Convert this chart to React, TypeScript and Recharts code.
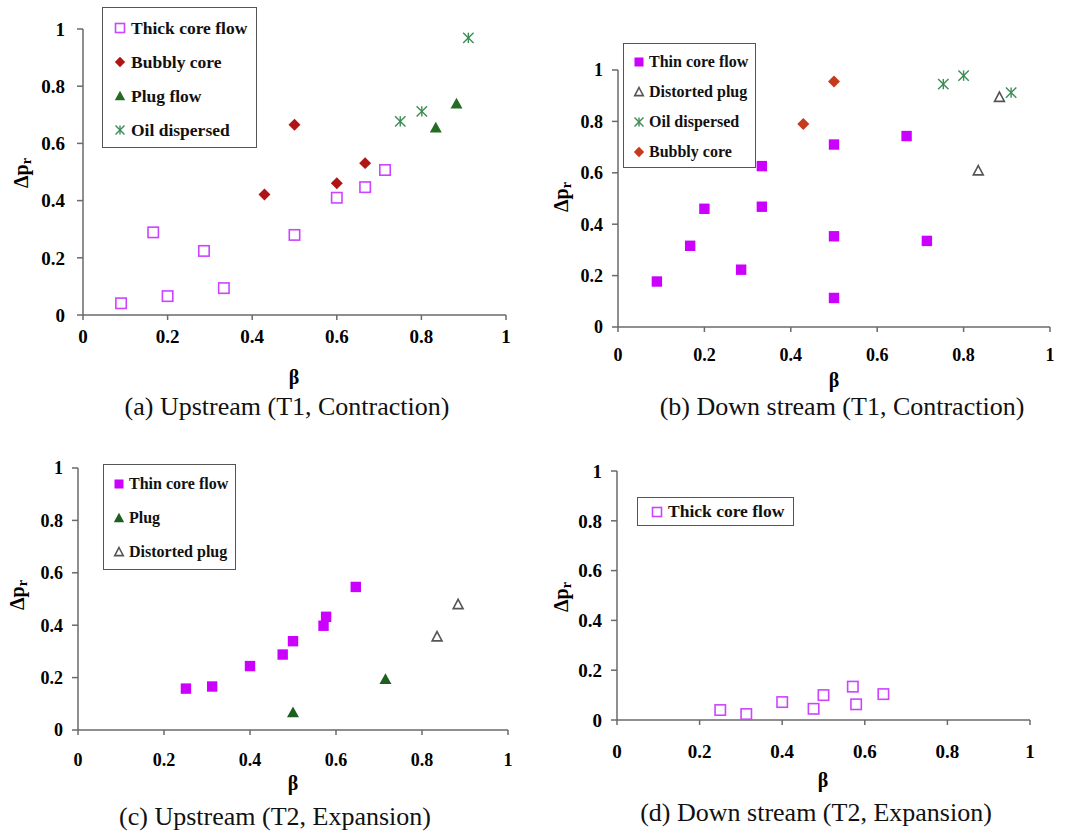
import { Legend, Scatter, ScatterChart, XAxis, YAxis } from "recharts";

const serif = '"Liberation Serif", "Times New Roman", serif';

const xTicks = [0, 0.2, 0.4, 0.6, 0.8, 1];
const yTicks = [0, 0.2, 0.4, 0.6, 0.8, 1];

// (a) upstream, T1 contraction
const aThickCore = [
  { beta: 0.09, dp: 0.041 },
  { beta: 0.166, dp: 0.289 },
  { beta: 0.2, dp: 0.066 },
  { beta: 0.286, dp: 0.224 },
  { beta: 0.333, dp: 0.094 },
  { beta: 0.5, dp: 0.28 },
  { beta: 0.6, dp: 0.41 },
  { beta: 0.667, dp: 0.447 },
  { beta: 0.714, dp: 0.507 },
];
const aBubbly = [
  { beta: 0.429, dp: 0.421 },
  { beta: 0.5, dp: 0.665 },
  { beta: 0.6, dp: 0.461 },
  { beta: 0.667, dp: 0.531 },
];
const aPlug = [
  { beta: 0.834, dp: 0.655 },
  { beta: 0.883, dp: 0.739 },
];
const aOil = [
  { beta: 0.75, dp: 0.677 },
  { beta: 0.801, dp: 0.712 },
  { beta: 0.911, dp: 0.969 },
];

// (b) downstream, T1 contraction
const bThinCore = [
  { beta: 0.09, dp: 0.177 },
  { beta: 0.167, dp: 0.316 },
  { beta: 0.2, dp: 0.46 },
  { beta: 0.285, dp: 0.223 },
  { beta: 0.333, dp: 0.626 },
  { beta: 0.333, dp: 0.468 },
  { beta: 0.5, dp: 0.71 },
  { beta: 0.5, dp: 0.353 },
  { beta: 0.5, dp: 0.113 },
  { beta: 0.668, dp: 0.743 },
  { beta: 0.715, dp: 0.335 },
];
const bDistorted = [
  { beta: 0.834, dp: 0.608 },
  { beta: 0.883, dp: 0.894 },
];
const bOil = [
  { beta: 0.753, dp: 0.945 },
  { beta: 0.8, dp: 0.978 },
  { beta: 0.91, dp: 0.912 },
];
const bBubbly = [
  { beta: 0.429, dp: 0.79 },
  { beta: 0.5, dp: 0.955 },
];

// (c) upstream, T2 expansion
const cThinCore = [
  { beta: 0.251, dp: 0.158 },
  { beta: 0.312, dp: 0.166 },
  { beta: 0.4, dp: 0.244 },
  { beta: 0.476, dp: 0.288 },
  { beta: 0.5, dp: 0.339 },
  { beta: 0.571, dp: 0.398 },
  { beta: 0.577, dp: 0.432 },
  { beta: 0.646, dp: 0.546 },
];
const cPlug = [
  { beta: 0.5, dp: 0.067 },
  { beta: 0.715, dp: 0.194 },
];
const cDistorted = [
  { beta: 0.835, dp: 0.356 },
  { beta: 0.884, dp: 0.479 },
];

// (d) downstream, T2 expansion
const dThickCore = [
  { beta: 0.25, dp: 0.04 },
  { beta: 0.313, dp: 0.024 },
  { beta: 0.4, dp: 0.072 },
  { beta: 0.476, dp: 0.045 },
  { beta: 0.5, dp: 0.1 },
  { beta: 0.571, dp: 0.134 },
  { beta: 0.579, dp: 0.063 },
  { beta: 0.645, dp: 0.104 },
];

type Kind = "openSquare" | "square" | "diamond" | "triangle" | "openTriangle" | "asterisk";

const Marker = ({ kind, cx, cy, color, s }: { kind: Kind; cx: number; cy: number; color: string; s: number }) => {
  if (kind === "openSquare")
    return <rect x={cx - s} y={cy - s} width={2 * s} height={2 * s} fill="none" stroke={color} strokeWidth={1.6} />;
  if (kind === "square") return <rect x={cx - s} y={cy - s} width={2 * s} height={2 * s} fill={color} />;
  if (kind === "diamond") {
    const d = s * 1.15;
    return <polygon points={`${cx},${cy - d} ${cx + d},${cy} ${cx},${cy + d} ${cx - d},${cy}`} fill={color} />;
  }
  if (kind === "triangle") {
    const w = s * 1.15;
    return <polygon points={`${cx},${cy - w} ${cx + w},${cy + w * 0.8} ${cx - w},${cy + w * 0.8}`} fill={color} />;
  }
  if (kind === "openTriangle")
    return (
      <polygon
        points={`${cx},${cy - s} ${cx + s * 0.95},${cy + s * 0.8} ${cx - s * 0.95},${cy + s * 0.8}`}
        fill="#fff"
        stroke={color}
        strokeWidth={1.6}
      />
    );
  return (
    <g stroke={color} strokeWidth={1.4}>
      <line x1={cx - s} y1={cy - s} x2={cx + s} y2={cy + s} />
      <line x1={cx - s} y1={cy + s} x2={cx + s} y2={cy - s} />
      <line x1={cx} y1={cy - s} x2={cx} y2={cy + s} />
    </g>
  );
};

type Series = { name: string; data: { beta: number; dp: number }[]; kind: Kind; color: string };

type Panel = {
  left: number;
  top: number;
  width: number;
  height: number;
  margin: { top: number; right: number };
  yWidth: number;
  xHeight: number;
  tickFont: number;
  xTickMargin: number;
  yTickMargin: number;
  series: Series[];
  legend: { x: number; y: number; font: number; rowH: number; padTop: number; markerX: number; textX: number; padRight: number };
  beta: [number, number];
  dpr: [number, number];
  caption: { text: string; x: number; y: number };
};

const MAGENTA_OPEN = "#CC44FF";
const MAGENTA = "#CC00FF";
const GREEN = "#246B24";
const OIL = "#3D8C55";
const GRAY = "#555";

const panels: Panel[] = [
  {
    left: 0, top: 0, width: 530, height: 400,
    margin: { top: 29, right: 24 }, yWidth: 83, xHeight: 85,
    tickFont: 19, xTickMargin: 10, yTickMargin: 12,
    series: [
      { name: "Thick core flow", data: aThickCore, kind: "openSquare", color: MAGENTA_OPEN },
      { name: "Bubbly core", data: aBubbly, kind: "diamond", color: "#B01515" },
      { name: "Plug flow", data: aPlug, kind: "triangle", color: GREEN },
      { name: "Oil dispersed", data: aOil, kind: "asterisk", color: OIL },
    ],
    legend: { x: 102, y: 7, font: 17.5, rowH: 34, padTop: 3, markerX: 17, textX: 28, padRight: 9 },
    beta: [294, 377],
    dpr: [22, 173],
    caption: { text: "(a) Upstream (T1, Contraction)", x: 287, y: 407 },
  },
  {
    left: 530, top: 0, width: 537, height: 400,
    margin: { top: 70, right: 17 }, yWidth: 88, xHeight: 73,
    tickFont: 18, xTickMargin: 16, yTickMargin: 9,
    series: [
      { name: "Thin core flow", data: bThinCore, kind: "square", color: MAGENTA },
      { name: "Distorted plug", data: bDistorted, kind: "openTriangle", color: GRAY },
      { name: "Oil dispersed", data: bOil, kind: "asterisk", color: OIL },
      { name: "Bubbly core", data: bBubbly, kind: "diamond", color: "#C8381A" },
    ],
    legend: { x: 623, y: 43, font: 16, rowH: 30, padTop: 3, markerX: 15, textX: 25, padRight: 7 },
    beta: [834, 380],
    dpr: [562, 197],
    caption: { text: "(b) Down stream (T1, Contraction)", x: 842, y: 407 },
  },
  {
    left: 0, top: 420, width: 540, height: 400,
    margin: { top: 48, right: 32 }, yWidth: 78, xHeight: 90,
    tickFont: 18, xTickMargin: 18, yTickMargin: 9,
    series: [
      { name: "Thin core flow", data: cThinCore, kind: "square", color: MAGENTA },
      { name: "Plug", data: cPlug, kind: "triangle", color: "#1E5E1E" },
      { name: "Distorted plug", data: cDistorted, kind: "openTriangle", color: GRAY },
    ],
    legend: { x: 103, y: 464, font: 16, rowH: 34, padTop: 2, markerX: 15, textX: 25, padRight: 7 },
    beta: [293, 783],
    dpr: [18, 595],
    caption: { text: "(c) Upstream (T2, Expansion)", x: 275, y: 817 },
  },
  {
    left: 530, top: 420, width: 537, height: 400,
    margin: { top: 51, right: 37 }, yWidth: 87, xHeight: 100,
    tickFont: 19, xTickMargin: 20, yTickMargin: 9,
    series: [{ name: "Thick core flow", data: dThickCore, kind: "openSquare", color: MAGENTA_OPEN }],
    legend: { x: 637, y: 497, font: 17.5, rowH: 27, padTop: 0, markerX: 19, textX: 30, padRight: 9 },
    beta: [823, 780],
    dpr: [562, 597],
    caption: { text: "(d) Down stream (T2, Expansion)", x: 816, y: 813 },
  },
];

const LegendBox = ({ p }: { p: Panel }) => {
  const l = p.legend;
  return (
    <div
      style={{
        border: "1.5px solid #555",
        background: "#fff",
        padding: `${l.padTop}px ${l.padRight}px 0 0`,
        fontFamily: serif,
        fontWeight: "bold",
        fontSize: l.font,
        color: "#111",
        whiteSpace: "nowrap",
      }}
    >
      {p.series.map((s) => (
        <div
          key={s.name}
          style={{ height: l.rowH, display: "flex", alignItems: "center", position: "relative", paddingLeft: l.textX }}
        >
          <svg width={14} height={14} style={{ position: "absolute", left: l.markerX - 7, top: l.rowH / 2 - 7 }}>
            <Marker kind={s.kind} cx={7} cy={7} color={s.color} s={4.5} />
          </svg>
          <span>{s.name}</span>
        </div>
      ))}
    </div>
  );
};

const PanelChart = ({ p }: { p: Panel }) => {
  const tick = { fill: "#000", fontFamily: serif, fontWeight: "bold", fontSize: p.tickFont };
  return (
    <div style={{ position: "absolute", left: p.left, top: p.top }}>
      <ScatterChart width={p.width} height={p.height} margin={{ top: p.margin.top, right: p.margin.right, left: 0, bottom: 0 }}>
        <XAxis
          type="number"
          dataKey="beta"
          domain={[0, 1]}
          ticks={xTicks}
          height={p.xHeight}
          tick={tick}
          tickSize={5}
          tickMargin={p.xTickMargin}
          stroke="#6a6a6a"
          strokeWidth={1.5}
        />
        <YAxis
          type="number"
          dataKey="dp"
          domain={[0, 1]}
          ticks={yTicks}
          width={p.yWidth}
          tick={tick}
          tickSize={6}
          tickMargin={p.yTickMargin}
          stroke="#6a6a6a"
          strokeWidth={1.5}
        />
        <Legend
          layout="vertical"
          align="center"
          verticalAlign="middle"
          wrapperStyle={{ left: p.legend.x - p.left, top: p.legend.y - p.top, width: "auto", height: "auto" }}
          content={() => <LegendBox p={p} />}
        />
        {p.series.map((s) => (
          <Scatter
            key={s.name}
            name={s.name}
            data={s.data}
            fill={s.color}
            isAnimationActive={false}
            shape={(props: any) => <Marker kind={s.kind} cx={props.cx} cy={props.cy} color={s.color} s={5.2} />}
          />
        ))}
      </ScatterChart>
      <div
        style={{
          position: "absolute",
          left: p.beta[0] - p.left,
          top: p.beta[1] - p.top,
          transform: "translate(-50%, -50%)",
          fontFamily: serif,
          fontWeight: "bold",
          fontSize: 20,
        }}
      >
        β
      </div>
      <div
        style={{
          position: "absolute",
          left: p.dpr[0] - p.left,
          top: p.dpr[1] - p.top,
          transform: "translate(-50%, -50%) rotate(-90deg)",
          fontFamily: serif,
          fontWeight: "bold",
          fontSize: 20,
          whiteSpace: "nowrap",
        }}
      >
        Δp<span style={{ fontSize: 14, verticalAlign: "-3px" }}>r</span>
      </div>
      <div
        style={{
          position: "absolute",
          left: p.caption.x - p.left,
          top: p.caption.y - p.top,
          transform: "translate(-50%, -50%)",
          fontFamily: serif,
          fontSize: 26,
          whiteSpace: "nowrap",
          color: "#111",
        }}
      >
        {p.caption.text}
      </div>
    </div>
  );
}

export default function App() {
  return (
    <div style={{ position: "absolute", left: 0, top: 0, width: 1067, height: 832, background: "#fff", overflow: "hidden" }}>
      {panels.map((p) => (
        <PanelChart key={p.caption.text} p={p} />
      ))}
    </div>
  );
}
